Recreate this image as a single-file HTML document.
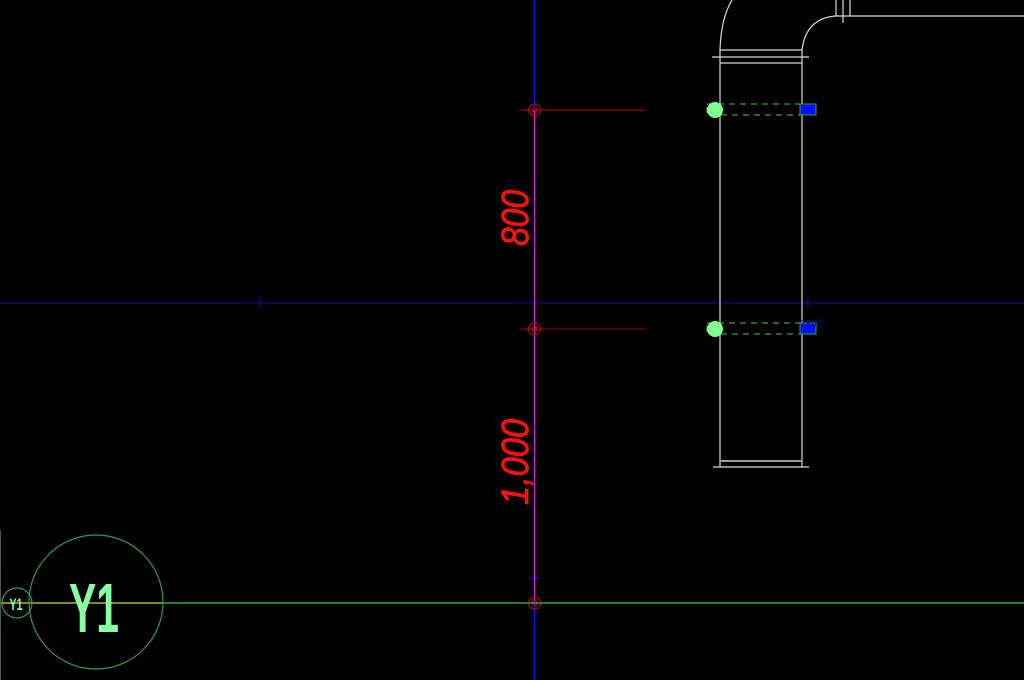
<!DOCTYPE html>
<html><head><style>html,body{margin:0;padding:0;background:#000;}svg{display:block}</style></head>
<body>
<svg width="1024" height="680" viewBox="0 0 1024 680" xmlns="http://www.w3.org/2000/svg">
<rect width="1024" height="680" fill="#000"/>
<line x1="0" y1="303" x2="1024" y2="303" stroke="#1010a0" stroke-width="1"/>
<line x1="260" y1="298" x2="260" y2="308" stroke="#1010c0"/>
<line x1="808" y1="297" x2="808" y2="309" stroke="#1010c0"/>
<line x1="534.5" y1="0" x2="534.5" y2="110" stroke="#1010ff"/>
<line x1="534.5" y1="592" x2="534.5" y2="680" stroke="#1010ff"/>
<line x1="529" y1="578" x2="540" y2="578" stroke="#1010ff"/>
<line x1="534.5" y1="110" x2="534.5" y2="600" stroke="#e020e0"/>
<line x1="520" y1="110" x2="645" y2="110" stroke="#c00000"/>
<line x1="520" y1="329" x2="645" y2="329" stroke="#a00000"/>
<g fill="none" stroke="#d00000">
<circle cx="534.5" cy="110" r="6"/><circle cx="534.5" cy="110" r="2.5"/>
<circle cx="534.5" cy="329" r="6"/><circle cx="534.5" cy="329" r="2.5"/>
<circle cx="534.5" cy="603" r="6"/><circle cx="534.5" cy="603" r="2.5"/>
</g>
<text transform="translate(528,218) rotate(-90)" text-anchor="middle" font-family="Liberation Sans, sans-serif" font-style="italic" font-size="38" fill="#ff1010" stroke="#ff1010" stroke-width="0.8" textLength="56" lengthAdjust="spacingAndGlyphs">800</text>
<text transform="translate(528,462) rotate(-90)" text-anchor="middle" font-family="Liberation Sans, sans-serif" font-style="italic" font-size="38" fill="#ff1010" stroke="#ff1010" stroke-width="0.8" textLength="86" lengthAdjust="spacingAndGlyphs">1,000</text>
<g fill="none" stroke="#d8d8d8" stroke-width="1.2">
<line x1="720" y1="50" x2="720" y2="467"/>
<line x1="802" y1="50" x2="802" y2="467"/>
<line x1="720" y1="50" x2="802" y2="50"/>
<line x1="712" y1="57" x2="809" y2="57"/>
<line x1="720" y1="63" x2="802" y2="63"/>
<line x1="720" y1="461" x2="802" y2="461" stroke="#999" stroke-width="2"/>
<line x1="713" y1="467" x2="809" y2="467"/>
<path d="M720 50 Q721 18 732 0"/>
<path d="M802 50 Q806 18 836 16 L1024 16"/>
<line x1="836" y1="0" x2="836" y2="16"/>
<line x1="843" y1="0" x2="843" y2="23"/>
<line x1="850" y1="0" x2="850" y2="16"/>
</g>
<g>
<rect x="707" y="104" width="109" height="11" fill="none" stroke="#50c060" stroke-dasharray="6,5"/>
<rect x="800" y="104" width="16" height="11" fill="#0010ff" stroke="#3aa03a"/>
<circle cx="715" cy="110" r="8" fill="#80ff90"/>
<rect x="707" y="323" width="109" height="11" fill="none" stroke="#50c060" stroke-dasharray="6,5"/>
<rect x="800" y="323" width="16" height="11" fill="#0010ff" stroke="#3aa03a"/>
<circle cx="715" cy="329" r="8" fill="#80ff90"/>
<text x="800" y="327" font-family="Liberation Sans, sans-serif" font-size="11" fill="#1010c0" textLength="22" lengthAdjust="spacingAndGlyphs">1800</text>
</g>
<line x1="0" y1="603" x2="1024" y2="603" stroke="#3a9a4a" stroke-width="1.5"/>
<line x1="0" y1="603" x2="163" y2="603" stroke="#a0a020" stroke-width="1.5"/>
<line x1="0.5" y1="530" x2="0.5" y2="680" stroke="#555"/>
<circle cx="96" cy="602" r="67" fill="none" stroke="#3a9a4a" stroke-width="1.2"/>
<circle cx="17" cy="603" r="15" fill="none" stroke="#3a9a4a" stroke-width="1.2"/>
<text x="94" y="632" text-anchor="middle" font-family="Liberation Sans, sans-serif" font-weight="bold" font-size="70" fill="#88ffa0" textLength="50" lengthAdjust="spacingAndGlyphs">Y1</text>
<text x="16" y="610" text-anchor="middle" font-family="Liberation Sans, sans-serif" font-weight="bold" font-size="17" fill="#88ffa0" textLength="13" lengthAdjust="spacingAndGlyphs">Y1</text>
</svg>
</body></html>
